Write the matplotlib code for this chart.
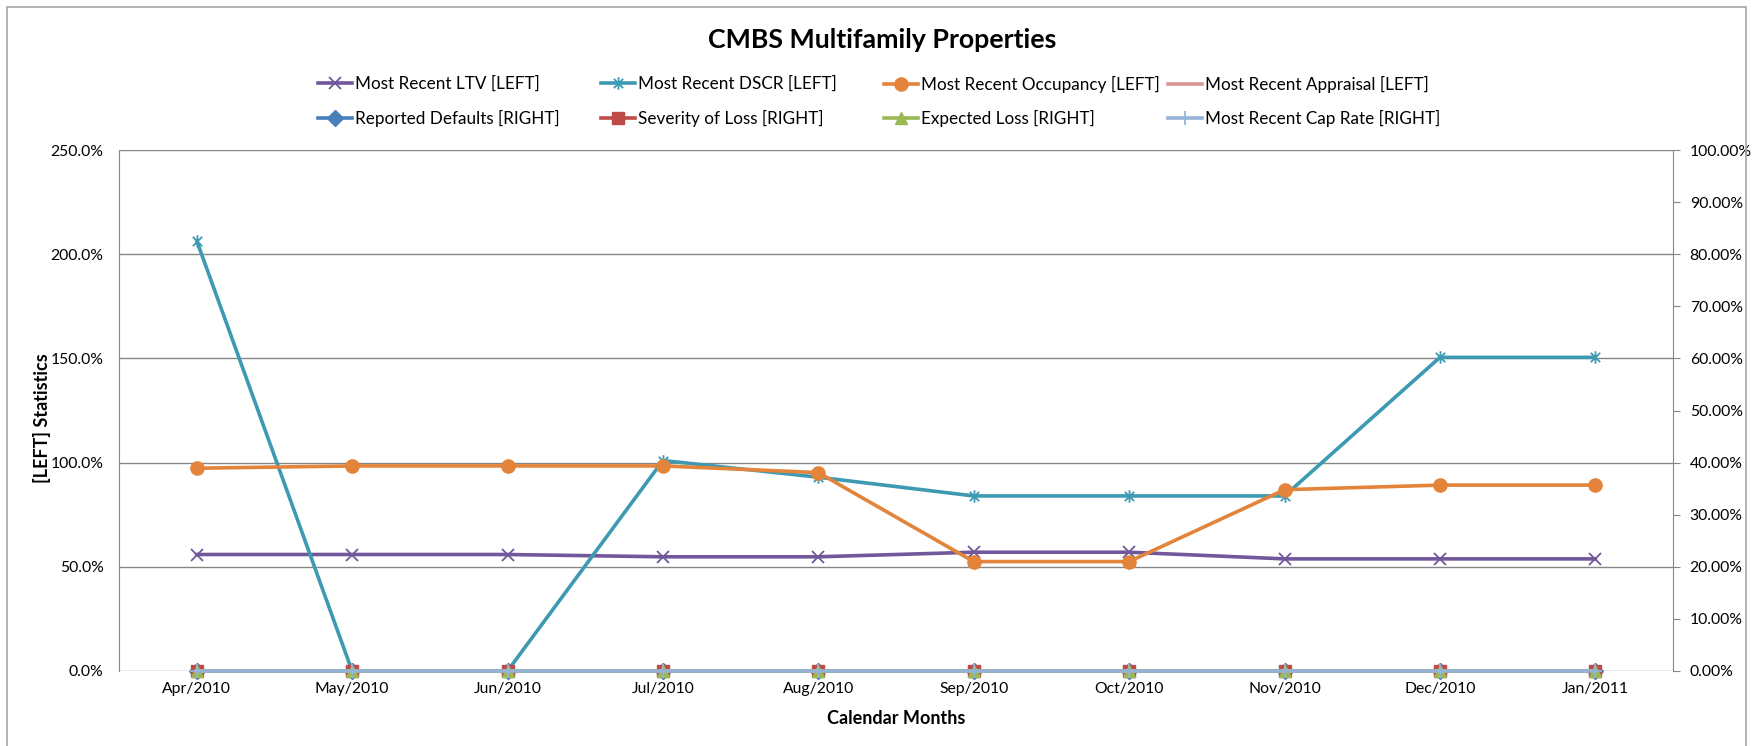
import matplotlib
matplotlib.use("Agg")
import matplotlib.pyplot as plt
from matplotlib.path import Path
from matplotlib.patches import Rectangle
from matplotlib.ticker import FuncFormatter, MultipleLocator

months = ["Apr/2010", "May/2010", "Jun/2010", "Jul/2010", "Aug/2010",
          "Sep/2010", "Oct/2010", "Nov/2010", "Dec/2010", "Jan/2011"]

# left axis series, percent
ltv = [55.9, 55.9, 55.9, 54.8, 54.8, 57.0, 57.0, 53.8, 53.8, 53.8]
dscr = [206.5, 0.0, 0.0, 101.0, 93.0, 84.0, 84.0, 84.0, 150.5, 150.5]
occupancy = [97.3, 98.4, 98.4, 98.4, 95.2, 52.5, 52.5, 87.0, 89.2, 89.2]
appraisal = [0.0] * 10

# right axis series, percent
defaults = [0.0] * 10
severity = [0.0] * 10
expected = [0.0] * 10
cap_rate = [0.0] * 10

plt.rcParams["font.family"] = ["Lato", "DejaVu Sans"]
W, H = 1752, 746
FS = 12.3      # legend
TFS = 11.3     # tick labels
GRAY = "#868686"

# Excel's "star" marker: an x with a vertical bar through it
star = Path([(0, -1), (0, 1), (-0.75, -0.75), (0.75, 0.75), (-0.75, 0.75), (0.75, -0.75)],
            [Path.MOVETO, Path.LINETO, Path.MOVETO, Path.LINETO, Path.MOVETO, Path.LINETO])

fig = plt.figure(figsize=(W / 100, H / 100), dpi=100)
ax = fig.add_axes([119 / W, 1 - 671 / H, (1673 - 119) / W, (671 - 150) / H])
ax2 = ax.twinx()

x = list(range(len(months)))

styles = [
    (ax, ltv, "Most Recent LTV [LEFT]", dict(color="#71589A", marker="x", ms=9, mew=1.3)),
    (ax, dscr, "Most Recent DSCR [LEFT]", dict(color="#3D9AB2", marker=star, ms=9, mew=1.3)),
    (ax, occupancy, "Most Recent Occupancy [LEFT]", dict(color="#E3843A", marker="o", ms=9.5)),
    (ax, appraisal, "Most Recent Appraisal [LEFT]", dict(color="#D99795")),
    (ax2, defaults, "Reported Defaults [RIGHT]", dict(color="#4A7EBB", marker="D", ms=8)),
    (ax2, severity, "Severity of Loss [RIGHT]", dict(color="#BE4B48", marker="s", ms=9)),
    (ax2, expected, "Expected Loss [RIGHT]", dict(color="#98B954", marker="^", ms=9)),
    (ax2, cap_rate, "Most Recent Cap Rate [RIGHT]", dict(color="#95B3D7", marker="+", ms=10, mew=1.3)),
]

handles = []
for axis, vals, label, st in styles:
    h, = axis.plot(x, vals, lw=2.6, label=label, clip_on=False, **st)
    handles.append(h)

ax.set_xlim(-0.5, len(months) - 0.5)
ax.set_ylim(0, 250)
ax2.set_ylim(0, 100)
ax.yaxis.set_major_locator(MultipleLocator(50))
ax2.yaxis.set_major_locator(MultipleLocator(10))
ax.yaxis.set_major_formatter(FuncFormatter(lambda v, p: f"{v:.1f}%"))
ax2.yaxis.set_major_formatter(FuncFormatter(lambda v, p: f"{v:.2f}%"))
ax.set_xticks(x)
ax.set_xticklabels(months)

ax.grid(axis="y", color=GRAY, lw=1)
ax.set_axisbelow(True)
ax.tick_params(axis="y", length=0, pad=11, labelsize=TFS)
ax.tick_params(axis="x", length=0, pad=8, labelsize=TFS)
ax2.tick_params(axis="y", length=5, color=GRAY, pad=7, labelsize=TFS)
for s in ["top", "right", "bottom"]:
    ax.spines[s].set_visible(False)
ax.spines["left"].set_color(GRAY)
for s in ["top", "left", "bottom"]:
    ax2.spines[s].set_visible(False)
ax2.spines["right"].set_color(GRAY)

fig.text(882 / W, 1 - 40 / H, "CMBS Multifamily Properties", ha="center", va="center",
         fontsize=19.3, fontweight="bold")
fig.text(896 / W, 1 - 719 / H, "Calendar Months", ha="center", va="center",
         fontsize=13, fontweight="bold")
fig.text(42 / W, 1 - 418 / H, "[LEFT] Statistics", ha="center", va="center",
         rotation=90, fontsize=13, fontweight="bold")

# legend, one entry per slot like Excel's grid
col_x = [318, 601, 884, 1168]
row_y = [84, 118]
for i, h in enumerate(handles):
    fig.legend(handles=[h], loc="center left",
               bbox_to_anchor=(col_x[i % 4] / W, 1 - row_y[i // 4] / H),
               frameon=False, fontsize=FS, borderpad=0, borderaxespad=0,
               handlelength=2.0, handletextpad=0.15)

fig.patches.append(Rectangle((7 / W, -0.02), (1746 - 7) / W, 1.02 - 7 / H,
                             transform=fig.transFigure, fill=False,
                             edgecolor="#A6A6A6", lw=1.2))

fig.savefig("out.png", dpi=100)
